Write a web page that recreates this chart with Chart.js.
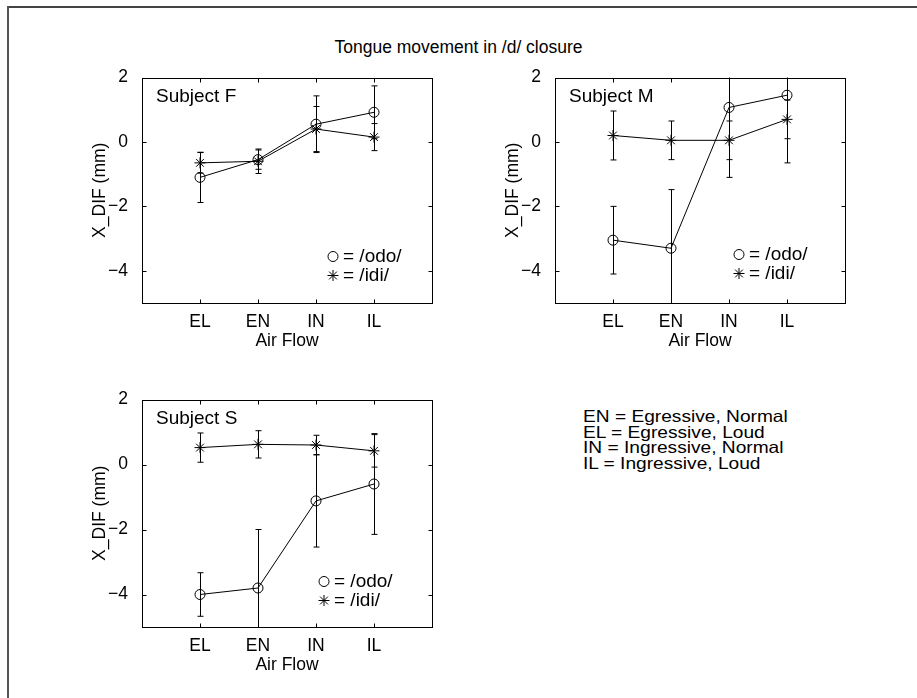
<!DOCTYPE html>
<html>
<head>
<meta charset="utf-8">
<title>Tongue movement in /d/ closure</title>
<script src="https://cdn.jsdelivr.net/npm/chart.js"></script>
<style>
  html, body { margin: 0; padding: 0; background: #fff; }
  #page { position: relative; width: 917px; height: 698px; overflow: hidden; font-family: "Liberation Sans", Arial, sans-serif; color: #000; }
  #page canvas { position: absolute; }
  .frame-top { position: absolute; left: 8px; top: 6px; width: 909px; height: 2px; background: #444; }
  .frame-left { position: absolute; left: 7px; top: 6px; width: 2px; height: 692px; background: #555; }
  #title { position: absolute; left: 0; width: 917px; top: 37px; text-align: center; font-size: 17.5px; }
  #key { position: absolute; left: 583px; top: 409px; font-size: 16.5px; line-height: 15.5px; white-space: pre; transform-origin: 0 0; transform: scaleX(1.16); }
</style>
</head>
<body>
<div id="page">
  <div class="frame-top"></div>
  <div class="frame-left"></div>
  <div id="title">Tongue movement in /d/ closure</div>
  <canvas id="plotF" width="360" height="292" style="left:82px; top:61px;"></canvas>
  <canvas id="plotM" width="360" height="292" style="left:495px; top:61px;"></canvas>
  <canvas id="plotS" width="360" height="294" style="left:82px; top:383px;"></canvas>
  <div id="key"></div>
</div>
<script>
// air flow conditions along x
const airFlow = ['EL', 'EN', 'IN', 'IL'];
const yTickValues = [2, 0, -2, -4];
const keyLines = [
  'EN = Egressive, Normal',
  'EL = Egressive, Loud',
  'IN = Ingressive, Normal',
  'IL = Ingressive, Loud'
];

// Subject F
const odoF = [-1.1, -0.55, 0.55, 0.92];
const odoErrF = [0.78, 0.3, 0.88, 0.82];
const idiF = [-0.65, -0.6, 0.4, 0.15];
const idiErrF = [0.32, 0.38, 0.7, 0.42];

// Subject M
const odoM = [-3.05, -3.3, 1.07, 1.45];
const odoErrM = [1.05, 1.82, 2.17, 2.1];
const idiM = [0.2, 0.05, 0.05, 0.7];
const idiErrM = [0.76, 0.6, 0.6, 0.6];

// Subject S
const odoS = [-4.0, -3.8, -1.12, -0.6];
const odoErrS = [0.67, 1.8, 1.42, 1.55];
const idiS = [0.52, 0.62, 0.6, 0.42];
const idiErrS = [0.45, 0.42, 0.3, 0.5];

document.getElementById('key').textContent = keyLines.join('\n');

const FONT = { family: '"Liberation Sans", Arial, sans-serif', size: 17.5 };

function toPoints(vals) {
  return vals.map((v, i) => ({ x: i + 1, y: v }));
}

function minusLabel(v) {
  return v < 0 ? '\u2212' + Math.abs(v) : String(v);
}

function drawMarker(ctx, style, x, y) {
  ctx.beginPath();
  if (style === 'circle') {
    ctx.arc(x, y, 5, 0, Math.PI * 2);
  } else {
    const r = 5.5, d = r * Math.SQRT1_2;
    ctx.moveTo(x - r, y); ctx.lineTo(x + r, y);
    ctx.moveTo(x, y - r); ctx.lineTo(x, y + r);
    ctx.moveTo(x - d, y - d); ctx.lineTo(x + d, y + d);
    ctx.moveTo(x - d, y + d); ctx.lineTo(x + d, y - d);
  }
  ctx.stroke();
}

// error bars, box with inward ticks, subject name and marker key
const matlabAxes = {
  id: 'matlabAxes',
  beforeDatasetsDraw(chart) {
    const { ctx, chartArea: a, scales: { x, y } } = chart;
    ctx.save();
    ctx.beginPath();
    ctx.rect(a.left, a.top, a.right - a.left, a.bottom - a.top);
    ctx.clip();
    ctx.strokeStyle = '#000';
    ctx.lineWidth = 1;
    chart.data.datasets.forEach(ds => {
      ds.data.forEach((p, i) => {
        const e = ds.errors[i];
        const px = Math.round(x.getPixelForValue(p.x)) + 0.5;
        const top = y.getPixelForValue(p.y + e);
        const bot = y.getPixelForValue(p.y - e);
        ctx.beginPath();
        ctx.moveTo(px, top); ctx.lineTo(px, bot);
        ctx.moveTo(px - 3, top); ctx.lineTo(px + 3, top);
        ctx.moveTo(px - 3, bot); ctx.lineTo(px + 3, bot);
        ctx.stroke();
      });
    });
    ctx.restore();
  },
  afterDraw(chart, args, opts) {
    const { ctx, chartArea: a, scales: { x, y } } = chart;
    ctx.save();
    ctx.strokeStyle = '#000';
    ctx.lineWidth = 1;
    const L = Math.round(a.left) + 0.5, R = Math.round(a.right) + 0.5;
    const T = Math.round(a.top) + 0.5, B = Math.round(a.bottom) + 0.5;
    ctx.strokeRect(L, T, R - L, B - T);
    ctx.beginPath();
    x.ticks.forEach(t => {
      const px = Math.round(x.getPixelForValue(t.value)) + 0.5;
      ctx.moveTo(px, B); ctx.lineTo(px, B - 4);
      ctx.moveTo(px, T); ctx.lineTo(px, T + 4);
    });
    y.ticks.forEach(t => {
      const py = Math.round(y.getPixelForValue(t.value)) + 0.5;
      ctx.moveTo(L, py); ctx.lineTo(L + 4, py);
      ctx.moveTo(R, py); ctx.lineTo(R - 4, py);
    });
    ctx.stroke();

    ctx.fillStyle = '#000';
    ctx.font = '19px "Liberation Sans", Arial, sans-serif';
    ctx.textBaseline = 'middle';
    ctx.textAlign = 'left';
    ctx.fillText(opts.subject, a.left + 14, a.top + 19);

    const kx = a.right + opts.keyX, ky = a.top + opts.keyY;
    chart.data.datasets.forEach((ds, i) => {
      const yy = ky + i * 19;
      drawMarker(ctx, ds.pointStyle, kx, yy);
      ctx.fillText('= ' + ds.label, kx + 10, yy);
    });
    ctx.restore();
  }
};

function makePlot(id, subject, odo, odoErr, idi, idiErr, keyX, keyY) {
  const ctx = document.getElementById(id).getContext('2d');
  return new Chart(ctx, {
    type: 'line',
    data: {
      datasets: [
        {
          label: '/odo/',
          data: toPoints(odo),
          errors: odoErr,
          borderColor: '#000',
          borderWidth: 1,
          pointStyle: 'circle',
          pointRadius: 5,
          pointBorderWidth: 1,
          pointBorderColor: '#000',
          pointBackgroundColor: 'rgba(0,0,0,0)'
        },
        {
          label: '/idi/',
          data: toPoints(idi),
          errors: idiErr,
          borderColor: '#000',
          borderWidth: 1,
          pointStyle: 'star',
          pointRadius: 5.5,
          pointBorderWidth: 1,
          pointBorderColor: '#000'
        }
      ]
    },
    options: {
      responsive: false,
      animation: false,
      devicePixelRatio: 1,
      events: [],
      layout: { padding: { top: 12, right: 10, left: 0, bottom: 0 } },
      plugins: {
        legend: { display: false },
        tooltip: { enabled: false },
        matlabAxes: { subject: subject, keyX: keyX, keyY: keyY }
      },
      scales: {
        x: {
          type: 'linear',
          min: 0,
          max: 5,
          grid: { display: false },
          border: { display: false },
          afterBuildTicks: s => { s.ticks = airFlow.map((_, i) => ({ value: i + 1 })); },
          afterFit: s => { s.height = 50; },
          ticks: {
            callback: v => airFlow[v - 1] || '',
            color: '#000',
            font: FONT,
            padding: 1,
            maxRotation: 0,
            autoSkip: false
          },
          title: { display: true, text: 'Air Flow', color: '#000', font: FONT, padding: { top: 0, bottom: 1 } }
        },
        y: {
          min: -5,
          max: 2,
          grid: { display: false },
          border: { display: false },
          afterBuildTicks: s => { s.ticks = yTickValues.map(v => ({ value: v })); },
          afterFit: s => { s.width = 60; },
          ticks: {
            callback: v => minusLabel(v),
            color: '#000',
            font: FONT,
            padding: 6
          },
          title: { display: true, text: 'X_DIF (mm)', color: '#000', font: FONT, padding: { top: 8, bottom: 0 } }
        }
      }
    },
    plugins: [matlabAxes]
  });
}

makePlot('plotF', 'Subject F', odoF, odoErrF, idiF, idiErrF, -99, 179);
makePlot('plotM', 'Subject M', odoM, odoErrM, idiM, idiErrM, -106, 177);
makePlot('plotS', 'Subject S', odoS, odoErrS, idiS, idiErrS, -108, 182);
</script>
</body>
</html>
